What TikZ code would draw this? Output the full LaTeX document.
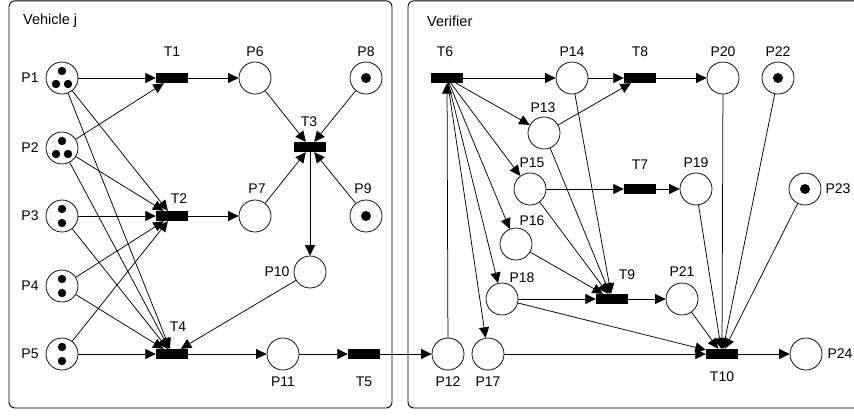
\documentclass[tikz,border=0pt]{standalone}
\usepackage{fontspec}
\setmainfont{Liberation Sans}
\usetikzlibrary{arrows.meta}
\begin{document}
\begin{tikzpicture}[x=1pt,y=-1pt,
 place/.style={circle,draw,minimum size=32pt,inner sep=0pt,line width=0.75pt},
 trans/.style={rectangle,fill=black,minimum width=32pt,minimum height=10pt,inner sep=0pt},
 arc/.style={-{Triangle[length=10.5pt,width=10pt]},line width=0.75pt},
 lab/.style={font=\fontsize{14}{15}\selectfont,inner sep=0pt},
 ttl/.style={font=\fontsize{14.5}{15}\selectfont,inner sep=0pt,anchor=west},
 box/.style={draw,rounded corners=6pt,line width=0.9pt}]
\useasboundingbox (0,0) rectangle (854,416);
% frames
\draw[box] (9,0.8) rectangle (392,408);
\draw[box] (408,0.8) rectangle (870,408);
\node[ttl] (tv) at (23,21) {Vehicle j};
\node[ttl] (tver) at (427,21) {Verifier};
% places
\foreach \n/\x/\y in {P1/62/78,P2/62/148,P3/62/216,P4/62/286,P5/62/354,P6/255/78,P7/255/216,P8/366/78,P9/366/216,P10/310/272,P11/283/354,P12/448/354,P13/544/133,P14/572/78,P15/530/189,P16/516/244,P17/488/354,P18/502/299,P19/696/189,P20/723/78,P21/682/299,P22/778/78,P23/805/189,P24/806/354}
  \node[place] (\n) at (\x,\y) {};
% transitions
\foreach \n/\x/\y in {T1/172/78,T2/172/216,T3/310/147,T4/172/354,T5/364/354,T6/447/78,T7/640/189,T8/640/78,T9/612/299,T10/722/354}
  \node[trans] (\n) at (\x,\y) {};
% tokens
\foreach \x/\y in {62/71,56/84,68/84,62/141,56/154,68/154,62/209,62/223,62/279,62/293,62/347,62/361}
  \fill (\x,\y) circle (4.2pt);
\foreach \x/\y in {366/78,366/216,778/78,805/189}
  \fill (\x,\y) circle (5pt);
% labels
\foreach \t/\x/\y in {P1/30/78,P2/30/148,P3/30/216,P4/30/286,P5/30/354,P6/255/52,P7/257/189,P8/366/52,P9/363/189,P10/277/272,P11/283/382,P12/448/382,P17/488/382,P13/543/108,P14/572/52,P15/532/163,P16/532/221,P18/522/278,P19/696/163,P20/723/52,P21/682/272,P22/778/52,P23/838/189,P24/840/354,T1/172/52,T2/179/199,T3/309/122,T4/178/327,T5/364/382,T6/445/52,T7/640/165,T8/640/52,T9/627/275,T10/722/377}
  \node[lab] (l\t) at (\x,\y) {\t};
% arcs vehicle
\draw[arc] (P1) -- (T1);
\draw[arc] (P2) -- (T1);
\foreach \p in {P1,P2,P3,P4,P5} {
  \draw[arc] (\p) -- (T2);
  \draw[arc] (\p) -- (T4);
}
\draw[arc] (T1) -- (P6);
\draw[arc] (T2) -- (P7);
\foreach \p in {P6,P7,P8,P9} \draw[arc] (\p) -- (T3);
\draw[arc] (T3) -- (P10);
\draw[arc] (P10) -- (T4);
\draw[arc] (T4) -- (P11);
\draw[arc] (P11) -- (T5);
\draw[arc] (T5) -- (P12);
% arcs verifier
\draw[arc] (P12) -- (T6);
\foreach \p in {P14,P13,P15,P16,P18,P17} \draw[arc] (T6) -- (\p);
\draw[arc] (P14) -- (T8);
\draw[arc] (P13) -- (T8);
\draw[arc] (P15) -- (T7);
\draw[arc] (T8) -- (P20);
\draw[arc] (T7) -- (P19);
\foreach \p in {P14,P13,P15,P16,P18} \draw[arc] (\p) -- (T9);
\draw[arc] (T9) -- (P21);
\foreach \p in {P18,P17,P21,P19,P20,P22,P23} \draw[arc] (\p) -- (T10);
\draw[arc] (T10) -- (P24);
\end{tikzpicture}
\end{document}
